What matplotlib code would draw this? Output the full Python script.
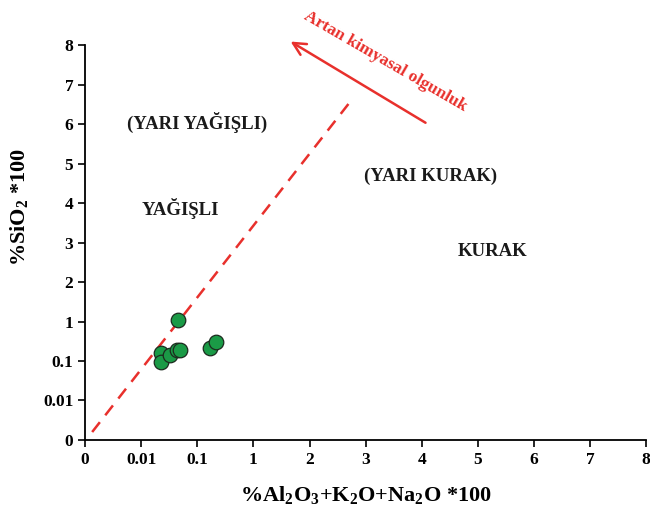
import numpy as np
import matplotlib.pyplot as plt

# tick values on both axes (0, then log part, then linear part)
tick_vals = [0, 0.01, 0.1, 1, 2, 3, 4, 5, 6, 7, 8]
tick_labels = ['0', '0.01', '0.1', '1', '2', '3', '4', '5', '6', '7', '8']

# samples: %Al2O3+K2O+Na2O *100 and %SiO2 *100
alk = [0.046, 0.0226, 0.0226, 0.032, 0.044, 0.049, 0.17, 0.215]
sio2 = [1.04, 0.158, 0.093, 0.141, 0.19, 0.19, 0.214, 0.30]

regions = ['(YARI YAĞIŞLI)', 'YAĞIŞLI', '(YARI KURAK)', 'KURAK']
region_pos = [(0.200, 0.805), (0.169, 0.587), (0.615, 0.668), (0.727, 0.478)]


def fwd(v):
    v = np.asarray(v, dtype=float)
    lg = np.log10(np.clip(v, 0.01, None)) + 3
    return np.where(v < 0.01, v * 100, np.where(v < 1, lg, v + 2))


def inv(p):
    p = np.asarray(p, dtype=float)
    return np.where(p < 1, p / 100, np.where(p < 3, 10 ** (p - 3), p - 2))


plt.rcParams['font.family'] = ['Liberation Serif', 'DejaVu Serif']
plt.rcParams['font.weight'] = 'bold'
plt.rcParams['mathtext.fontset'] = 'custom'
plt.rcParams['mathtext.rm'] = 'Liberation Serif:bold'
plt.rcParams['mathtext.bf'] = 'Liberation Serif:bold'

red = '#e8302c'

fig = plt.figure(figsize=(6.5, 5.2), dpi=100)
ax = fig.add_axes([0.131, 0.154, 0.863, 0.759])
ax.set_xscale('function', functions=(fwd, inv))
ax.set_yscale('function', functions=(fwd, inv))
ax.set_xlim(0, 8)
ax.set_ylim(0, 8)
ax.set_xticks(tick_vals)
ax.set_xticklabels(tick_labels)
ax.set_yticks(tick_vals)
ax.set_yticklabels(tick_labels)
ax.minorticks_off()
for s in ['top', 'right']:
    ax.spines[s].set_visible(False)
for s in ['left', 'bottom']:
    ax.spines[s].set_linewidth(1.3)
ax.tick_params(direction='out', length=5, width=1.2, labelsize=12.5)

# dashed boundary and maturity arrow
ax.plot([0.0125, 0.472], [0.020, 0.856], transform=ax.transAxes,
        color=red, ls=(0, (5, 3.5)), lw=1.8, clip_on=False)
ax.annotate('', xy=(0.362, 1.013), xytext=(0.611, 0.800),
            xycoords='axes fraction', textcoords='axes fraction',
            arrowprops=dict(arrowstyle='->,head_length=0.9,head_width=0.45',
                            color=red, lw=1.8))
ax.text(0.535, 0.958, 'Artan kimyasal olgunluk', transform=ax.transAxes,
        rotation=-30, color=red, fontsize=12.5, fontweight='bold',
        ha='center', va='center', rotation_mode='anchor')

for t, (x, y) in zip(regions, region_pos):
    ax.text(x, y, t, transform=ax.transAxes, fontsize=13.5, fontweight='bold',
            ha='center', va='center', color='#1a1a1a')

ax.scatter(alk, sio2, s=110, color='#1a9a46', edgecolor='#1c2a1e',
           linewidth=0.9, zorder=3, clip_on=False)

ax.set_xlabel(r'%Al$_\mathbf{2}$O$_\mathbf{3}$+K$_\mathbf{2}$O+Na$_\mathbf{2}$O *100',
              fontsize=16, fontweight='bold', labelpad=12)
ax.set_ylabel(r'%SiO$_\mathbf{2}$ *100', fontsize=16, fontweight='bold')
ax.yaxis.set_label_coords(-0.096, 0.59)

plt.savefig('out.png', dpi=100)
